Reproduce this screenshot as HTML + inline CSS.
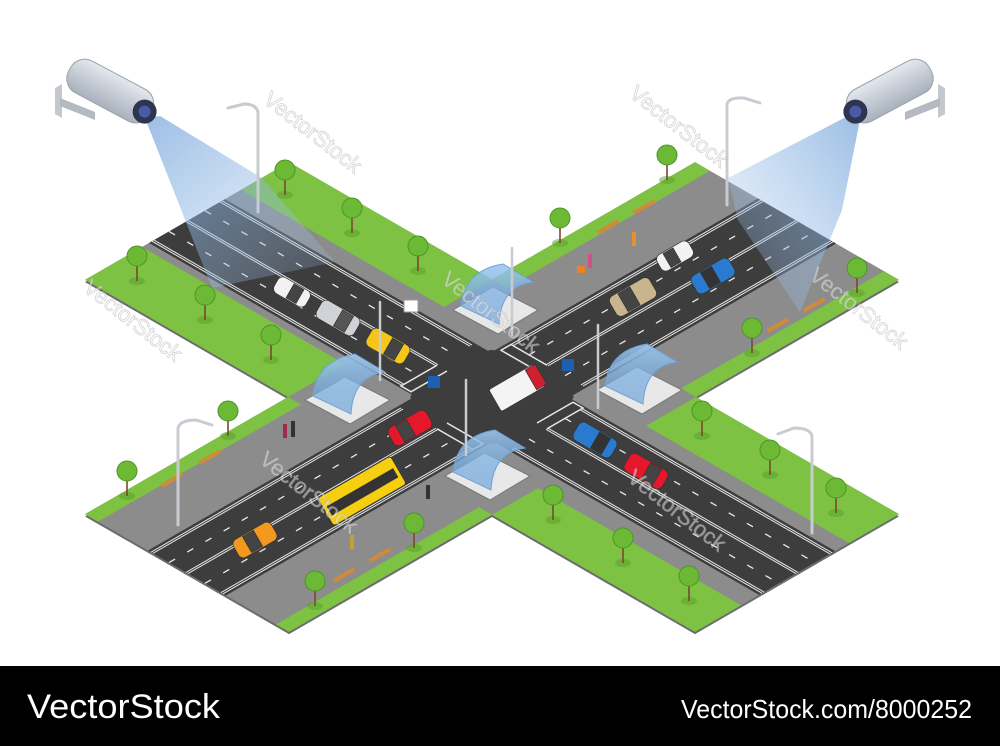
<!DOCTYPE html>
<html><head><meta charset="utf-8"><style>
html,body{margin:0;padding:0;background:#fff;}
svg{display:block;}
</style></head><body>
<svg width="1000" height="746" viewBox="0 0 1000 746" xmlns="http://www.w3.org/2000/svg" font-family="Liberation Sans, sans-serif">
<defs>
<linearGradient id="beamL" x1="0" y1="0" x2="1" y2="1"><stop offset="0" stop-color="#7aa8dc" stop-opacity="0.75"/><stop offset="1" stop-color="#a9c8ec" stop-opacity="0.15"/></linearGradient>
<linearGradient id="beamR" x1="1" y1="0" x2="0" y2="1"><stop offset="0" stop-color="#7aa8dc" stop-opacity="0.75"/><stop offset="1" stop-color="#a9c8ec" stop-opacity="0.15"/></linearGradient>
<linearGradient id="cam" x1="0" y1="0" x2="0" y2="1"><stop offset="0" stop-color="#e4e8ee"/><stop offset="1" stop-color="#a9b1bc"/></linearGradient>
<linearGradient id="glass" x1="0" y1="0" x2="0" y2="1"><stop offset="0" stop-color="#9cc6ee" stop-opacity="0.9"/><stop offset="1" stop-color="#5f9ad6" stop-opacity="0.6"/></linearGradient>
</defs>
<rect width="1000" height="746" fill="#fff"/>

<g transform="matrix(1,0.577,1,-0.577,492,397)">
  <g transform="translate(2,-2)" fill="#6b6b6b">
    <rect x="-305" y="-102" width="610" height="204"/>
    <rect x="-102" y="-305" width="204" height="610"/>
  </g>
  <g fill="#8c8c8c">
    <rect x="-305" y="-102" width="610" height="204"/>
    <rect x="-102" y="-305" width="204" height="610"/>
  </g>
  <g fill="#7dc242">
    <rect x="-305" y="-102" width="203" height="57"/>
    <rect x="-305" y="54" width="203" height="48"/>
    <rect x="102" y="-102" width="203" height="46"/>
    <rect x="102" y="52" width="203" height="50"/>
    <rect x="-102" y="-305" width="13" height="203"/>
    <rect x="89" y="-305" width="13" height="203"/>
    <rect x="-102" y="102" width="15" height="203"/>
    <rect x="87" y="102" width="15" height="203"/>
  </g>
  <g fill="#3d3d3d">
    <rect x="-305" y="-38" width="610" height="76"/>
    <rect x="-39" y="-305" width="78" height="610"/>
    <rect x="-42" y="-42" width="84" height="84" rx="4"/>
  </g>
  <g stroke="#e8e8e8" fill="none">
    <path d="M-305,-35H-55 M-305,-33H-55 M-305,35H-55 M-305,33H-55 M-305,-1H-55 M-305,1H-55" stroke-width="1" vector-effect="non-scaling-stroke"/>
    <path d="M55,-35H305 M55,-33H305 M55,35H305 M55,33H305 M55,-1H305 M55,1H305" stroke-width="1" vector-effect="non-scaling-stroke"/>
    <path d="M-305,-18H-55 M-305,18H-55 M55,-18H305 M55,18H305" stroke-width="1.3" stroke-dasharray="7 14" vector-effect="non-scaling-stroke"/>
    <path d="M-36,-305V-55 M-34,-305V-55 M36,-305V-55 M34,-305V-55 M-1,-305V-55 M1,-305V-55" stroke-width="1" vector-effect="non-scaling-stroke"/>
    <path d="M-36,55V305 M-34,55V305 M36,55V305 M34,55V305 M-1,55V305 M1,55V305" stroke-width="1" vector-effect="non-scaling-stroke"/>
    <path d="M-18,-305V-55 M18,-305V-55 M-18,55V305 M18,55V305" stroke-width="1.3" stroke-dasharray="7 14" vector-effect="non-scaling-stroke"/>
    <path d="M-55,0V-36H-45V0 M55,0V36H45V0 M0,-55H36V-45H0 M0,55H-36V45H0" stroke-width="1.5" vector-effect="non-scaling-stroke"/>
  </g>
</g>

<polygon points="145,118 160,116 262,178 335,262 212,288" fill="url(#beamL)"/>
<polygon points="848,116 860,120 842,210 800,312 738,220 728,178" fill="url(#beamR)"/>

<g>
  <g transform="translate(493,292)">
    <polygon points="-40,18 0,-5 45,18 5,42" fill="#e8e8e8" stroke="#777"/>
    <path d="M-32,14 Q-28,-22 10,-28 L40,-10 Q8,-6 6,32 Z" fill="url(#glass)" stroke="#6fa3d8"/>
  </g>
  <g transform="translate(345,382)">
    <polygon points="-40,18 0,-5 45,18 5,42" fill="#e8e8e8" stroke="#777"/>
    <path d="M-32,14 Q-28,-22 10,-28 L40,-10 Q8,-6 6,32 Z" fill="url(#glass)" stroke="#6fa3d8"/>
  </g>
  <g transform="translate(637,372)">
    <polygon points="-40,18 0,-5 45,18 5,42" fill="#e8e8e8" stroke="#777"/>
    <path d="M-32,14 Q-28,-22 10,-28 L40,-10 Q8,-6 6,32 Z" fill="url(#glass)" stroke="#6fa3d8"/>
  </g>
  <g transform="translate(485,458)">
    <polygon points="-40,18 0,-5 45,18 5,42" fill="#e8e8e8" stroke="#777"/>
    <path d="M-32,14 Q-28,-22 10,-28 L40,-10 Q8,-6 6,32 Z" fill="url(#glass)" stroke="#6fa3d8"/>
  </g>
</g>

<g>
  <g fill="#5aa02c" opacity="0.5">
    <ellipse cx="285" cy="195" rx="8" ry="4"/><ellipse cx="352" cy="233" rx="8" ry="4"/><ellipse cx="418" cy="271" rx="8" ry="4"/>
    <ellipse cx="137" cy="281" rx="8" ry="4"/><ellipse cx="205" cy="320" rx="8" ry="4"/><ellipse cx="271" cy="360" rx="8" ry="4"/>
    <ellipse cx="228" cy="436" rx="8" ry="4"/><ellipse cx="127" cy="496" rx="8" ry="4"/><ellipse cx="315" cy="606" rx="8" ry="4"/>
    <ellipse cx="414" cy="548" rx="8" ry="4"/><ellipse cx="553" cy="520" rx="8" ry="4"/><ellipse cx="623" cy="563" rx="8" ry="4"/>
    <ellipse cx="689" cy="601" rx="8" ry="4"/><ellipse cx="560" cy="243" rx="8" ry="4"/><ellipse cx="667" cy="180" rx="8" ry="4"/>
    <ellipse cx="752" cy="353" rx="8" ry="4"/><ellipse cx="857" cy="293" rx="8" ry="4"/><ellipse cx="702" cy="436" rx="8" ry="4"/>
    <ellipse cx="770" cy="475" rx="8" ry="4"/><ellipse cx="836" cy="513" rx="8" ry="4"/>
  </g>
  <g stroke="#7a4a2a" stroke-width="1.6">
    <path d="M285,170V195M352,208V233M418,246V271M137,256V281M205,295V320M271,335V360M228,411V436M127,471V496M315,581V606M414,523V548M553,495V520M623,538V563M689,576V601M560,218V243M667,155V180M752,328V353M857,268V293M702,411V436M770,450V475M836,488V513"/>
  </g>
  <g fill="#6cb936" stroke="#4f9424" stroke-width="1">
    <circle cx="285" cy="170" r="10"/><circle cx="352" cy="208" r="10"/><circle cx="418" cy="246" r="10"/>
    <circle cx="137" cy="256" r="10"/><circle cx="205" cy="295" r="10"/><circle cx="271" cy="335" r="10"/>
    <circle cx="228" cy="411" r="10"/><circle cx="127" cy="471" r="10"/><circle cx="315" cy="581" r="10"/>
    <circle cx="414" cy="523" r="10"/><circle cx="553" cy="495" r="10"/><circle cx="623" cy="538" r="10"/>
    <circle cx="689" cy="576" r="10"/><circle cx="560" cy="218" r="10"/><circle cx="667" cy="155" r="10"/>
    <circle cx="752" cy="328" r="10"/><circle cx="857" cy="268" r="10"/><circle cx="702" cy="411" r="10"/>
    <circle cx="770" cy="450" r="10"/><circle cx="836" cy="488" r="10"/>
  </g>
</g>

<g fill="#d08a3a">
  <rect x="160" y="478" width="24" height="4" transform="rotate(-30 172 480)"/>
  <rect x="198" y="455" width="24" height="4" transform="rotate(-30 210 457)"/>
  <rect x="332" y="573" width="24" height="4" transform="rotate(-30 344 575)"/>
  <rect x="368" y="553" width="24" height="4" transform="rotate(-30 380 555)"/>
  <rect x="596" y="225" width="24" height="4" transform="rotate(-30 608 227)"/>
  <rect x="632" y="205" width="24" height="4" transform="rotate(-30 644 207)"/>
  <rect x="766" y="323" width="24" height="4" transform="rotate(-30 778 325)"/>
  <rect x="802" y="303" width="24" height="4" transform="rotate(-30 814 305)"/>
</g>

<g stroke="#333" stroke-width="0.6">
  <g transform="translate(292,292) rotate(30) scale(1.15)"><rect x="-16" y="-8" width="32" height="16" rx="5" fill="#f2f2f2"/><rect x="-2" y="-7" width="10" height="14" fill="#444"/></g>
  <g transform="translate(338,318) rotate(30) scale(1.15)"><rect x="-19" y="-9" width="38" height="18" rx="5" fill="#cfd3d8"/><rect x="0" y="-8" width="11" height="16" fill="#555"/></g>
  <g transform="translate(388,346) rotate(30) scale(1.15)"><rect x="-19" y="-9" width="38" height="18" rx="5" fill="#f5c518"/><rect x="0" y="-8" width="11" height="16" fill="#444"/></g>
  <g transform="translate(410,428) rotate(-30) scale(1.15)"><rect x="-19" y="-9" width="38" height="18" rx="5" fill="#e4182a"/><rect x="-10" y="-8" width="11" height="16" fill="#444"/></g>
  <g transform="translate(517,388) rotate(-30) scale(1.15)"><rect x="-22" y="-11" width="44" height="22" rx="2" fill="#f4f4f4"/><rect x="14" y="-10" width="10" height="20" fill="#d02030"/></g>
  <g transform="translate(595,440) rotate(30) scale(1.15)"><rect x="-19" y="-9" width="38" height="18" rx="5" fill="#2a7bd0"/><rect x="0" y="-8" width="11" height="16" fill="#333"/></g>
  <g transform="translate(646,471) rotate(30) scale(1.15)"><rect x="-19" y="-9" width="38" height="18" rx="5" fill="#e4182a"/><rect x="0" y="-8" width="11" height="16" fill="#444"/></g>
  <g transform="translate(362,491) rotate(-30)"><rect x="-42" y="-16" width="84" height="32" rx="3" fill="#f6cf10"/><rect x="-38" y="-4" width="76" height="10" fill="#333"/></g>
  <g transform="translate(255,540) rotate(-30) scale(1.15)"><rect x="-19" y="-9" width="38" height="18" rx="5" fill="#f39a1e"/><rect x="-8" y="-8" width="11" height="16" fill="#444"/></g>
  <g transform="translate(633,297) rotate(-30) scale(1.15)"><rect x="-20" y="-10" width="40" height="20" rx="5" fill="#c8b58e"/><rect x="-10" y="-9" width="12" height="18" fill="#444"/></g>
  <g transform="translate(675,256) rotate(-30) scale(1.15)"><rect x="-16" y="-8" width="32" height="16" rx="5" fill="#f2f2f2"/><rect x="-8" y="-7" width="10" height="14" fill="#444"/></g>
  <g transform="translate(713,276) rotate(-30) scale(1.15)"><rect x="-19" y="-9" width="38" height="18" rx="5" fill="#2a7bd0"/><rect x="-8" y="-8" width="11" height="16" fill="#333"/></g>
</g>

<g fill="#333">
  <rect x="283" y="424" width="4" height="14" fill="#a02a4a"/><rect x="291" y="421" width="4" height="16"/>
  <rect x="426" y="485" width="4" height="14"/><rect x="350" y="535" width="4" height="14" fill="#c8a030"/>
  <rect x="632" y="232" width="4" height="14" fill="#e89030"/><rect x="588" y="254" width="4" height="14" fill="#d0508a"/>
  <rect x="577" y="266" width="8" height="7" fill="#f08020"/>
</g>

<g stroke="#c8ccd2" stroke-width="3" fill="none" stroke-linecap="round">
  <path d="M258,212V112Q256,104 244,104L228,108"/>
  <path d="M727,205V104Q729,97 744,98L760,103"/>
  <path d="M178,525V428Q180,420 196,420L212,425"/>
  <path d="M812,533V436Q810,428 794,428L778,434"/>
  <path d="M512,335V248" stroke-width="2.5"/>
  <path d="M598,408V325" stroke-width="2.5"/>
  <path d="M466,455V380" stroke-width="2.5"/>
  <path d="M380,380V302" stroke-width="2.5"/>
</g>
<rect x="428" y="376" width="12" height="12" fill="#1e5fb0"/>
<rect x="562" y="359" width="12" height="12" fill="#1e5fb0"/>
<rect x="404" y="300" width="14" height="12" fill="#fff" stroke="#999"/>

<g>
  <path d="M55,88L62,84V118L55,114Z" fill="#c3c8cf"/>
  <path d="M60,98L95,112L95,120L60,106Z" fill="#b5bac2"/>
  <g transform="rotate(28 112 92)">
    <rect x="64" y="74" width="92" height="36" rx="16" fill="url(#cam)" stroke="#9aa2ad"/>
    <circle cx="150" cy="94" r="12" fill="#2d3550"/>
    <circle cx="150" cy="94" r="6" fill="#4a5aa8"/>
  </g>
</g>
<g transform="translate(1000,0) scale(-1,1)">
  <path d="M55,88L62,84V118L55,114Z" fill="#c3c8cf"/>
  <path d="M60,98L95,112L95,120L60,106Z" fill="#b5bac2"/>
  <g transform="rotate(28 112 92)">
    <rect x="64" y="74" width="92" height="36" rx="16" fill="url(#cam)" stroke="#9aa2ad"/>
    <circle cx="150" cy="94" r="12" fill="#2d3550"/>
    <circle cx="150" cy="94" r="6" fill="#4a5aa8"/>
  </g>
</g>

<g fill="#ffffff" fill-opacity="0.45" stroke="#aaaaaa" stroke-opacity="0.5" stroke-width="0.8" font-size="22">
  <text transform="translate(262,102) rotate(38)">VectorStock</text>
  <text transform="translate(628,96) rotate(38)">VectorStock</text>
  <text transform="translate(808,278) rotate(38)">VectorStock</text>
  <text transform="translate(440,282) rotate(38)">VectorStock</text>
  <text transform="translate(82,290) rotate(38)">VectorStock</text>
  <text transform="translate(258,462) rotate(38)">VectorStock</text>
  <text transform="translate(626,480) rotate(38)">VectorStock</text>
</g>

<rect x="0" y="666" width="1000" height="80" fill="#000"/>
<text x="27" y="718" fill="#fff" font-size="34" textLength="193" lengthAdjust="spacingAndGlyphs">VectorStock</text>
<text x="681" y="718" fill="#fff" font-size="26" textLength="291" lengthAdjust="spacingAndGlyphs">VectorStock.com/8000252</text>
</svg>
</body></html>
